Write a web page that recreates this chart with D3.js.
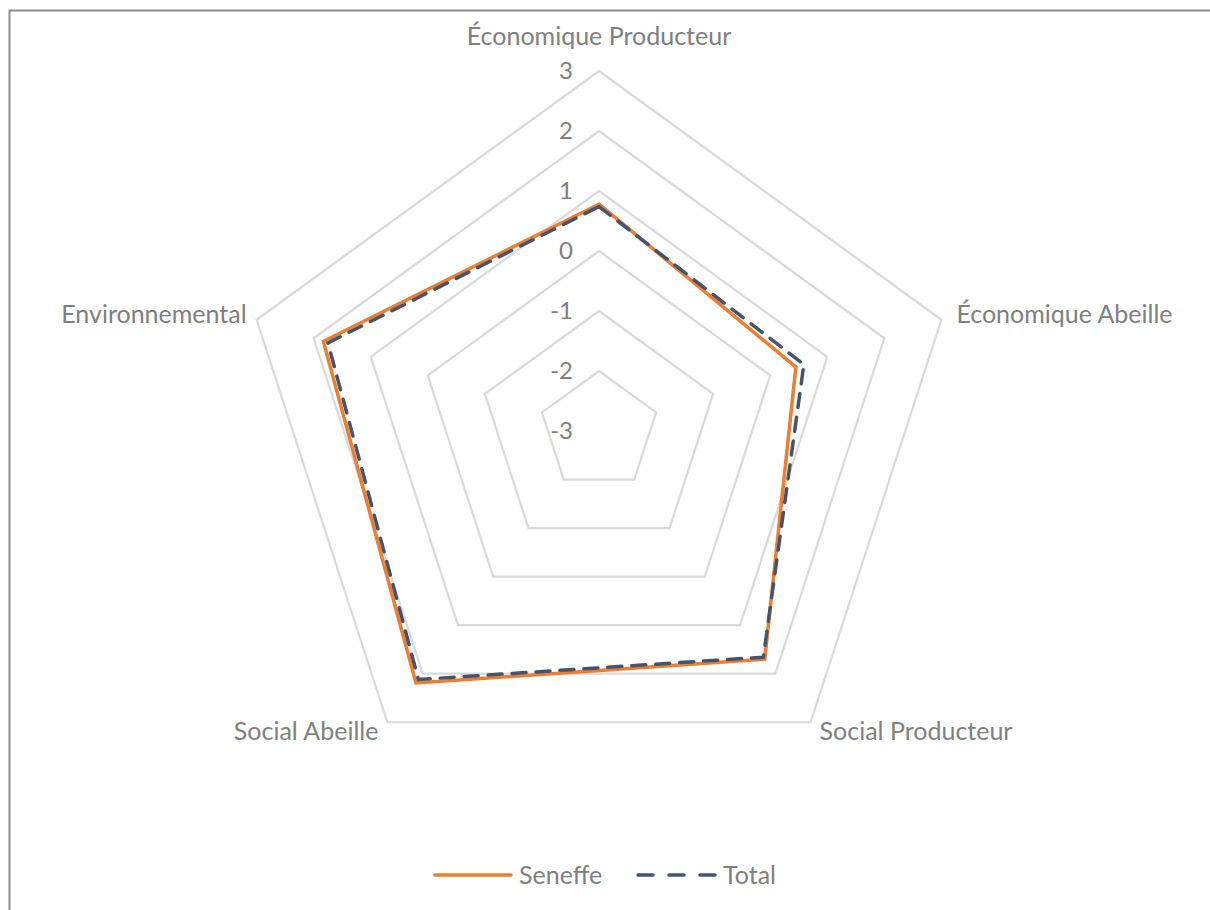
<!DOCTYPE html>
<html><head><meta charset="utf-8">
<script src="https://cdn.jsdelivr.net/npm/d3@7"></script>
<style>body{margin:0;background:#fff;overflow:hidden;} svg{display:block;overflow:hidden;}</style>
</head><body>
<svg id="c" width="1210" height="910"></svg>
<script>
const categories = ["Économique Producteur", "Économique Abeille", "Social Producteur", "Social Abeille", "Environnemental"];
const seneffe = [0.78, 0.45, 1.70, 2.19, 1.83];
const total = [0.74, 0.59, 1.66, 2.12, 1.75];
const tickValues = [-3, -2, -1, 0, 1, 2, 3];
const seriesNames = ["Seneffe", "Total"];

const svg = d3.select("#c");
const cx = 599, cy = 431, R = 360;
const font = "Lato, 'Open Sans', sans-serif";
const textColor = "#7f7f7f";

svg.append("rect").attr("x", 9.5).attr("y", 10.5).attr("width", 1400).attr("height", 1100)
  .attr("fill", "none").attr("stroke", "#8c8c8c").attr("stroke-width", 2);

const r = d3.scaleLinear().domain([-3, 3]).range([0, R]);
const angle = d3.scaleLinear().domain([0, categories.length]).range([0, 2 * Math.PI]);
const pt = (i, v) => [cx + r(v) * Math.sin(angle(i)), cy - r(v) * Math.cos(angle(i))];

// grid rings
tickValues.filter(t => t > -3).forEach(t => {
  svg.append("path")
    .attr("d", d3.line()(categories.map((c, i) => pt(i, t))) + "Z")
    .attr("fill", "none").attr("stroke", "#d9d9d9").attr("stroke-width", 2.2);
});

// tick labels
svg.selectAll(".tick").data(tickValues).join("text")
  .attr("x", cx - 26).attr("y", d => cy - r(d) + 8)
  .attr("text-anchor", "end").attr("font-family", font).attr("font-size", 24)
  .attr("fill", textColor).text(d => d);

// category labels
const labelPos = [
  {dx: 0, dy: -26, anchor: "middle"},
  {dx: 15, dy: 3, anchor: "start"},
  {dx: 9, dy: 18, anchor: "start"},
  {dx: -9, dy: 18, anchor: "end"},
  {dx: -10, dy: 3, anchor: "end"}
];
categories.forEach((c, i) => {
  const [x, y] = pt(i, 3);
  svg.append("text").attr("x", x + labelPos[i].dx).attr("y", y + labelPos[i].dy)
    .attr("text-anchor", labelPos[i].anchor).attr("font-family", font).attr("font-size", 25)
    .attr("fill", textColor).text(c);
});

const line = d3.lineRadial().angle((d, i) => angle(i)).radius(d => r(d)).curve(d3.curveLinearClosed);
const g = svg.append("g").attr("transform", `translate(${cx},${cy})`);
g.append("path").attr("d", line(seneffe)).attr("fill", "none")
  .attr("stroke", "#ED7D31").attr("stroke-width", 3.5).attr("stroke-linejoin", "miter");
g.append("path").attr("d", line(total)).attr("fill", "none")
  .attr("stroke", "#44546A").attr("stroke-width", 3.5).attr("stroke-dasharray", "14,10")
  .attr("stroke-linecap", "round");

// legend
const lg = svg.append("g");
lg.append("line").attr("x1", 435).attr("x2", 511).attr("y1", 875).attr("y2", 875)
  .attr("stroke", "#ED7D31").attr("stroke-width", 3.5).attr("stroke-linecap", "round");
lg.append("text").attr("x", 519).attr("y", 884).attr("font-family", font).attr("font-size", 25)
  .attr("fill", textColor).text(seriesNames[0]);
lg.append("line").attr("x1", 638).attr("x2", 716).attr("y1", 875).attr("y2", 875)
  .attr("stroke", "#44546A").attr("stroke-width", 3.5).attr("stroke-dasharray", "15,16").attr("stroke-linecap", "round");
lg.append("text").attr("x", 723).attr("y", 884).attr("font-family", font).attr("font-size", 25)
  .attr("fill", textColor).text(seriesNames[1]);
</script>
</body></html>
